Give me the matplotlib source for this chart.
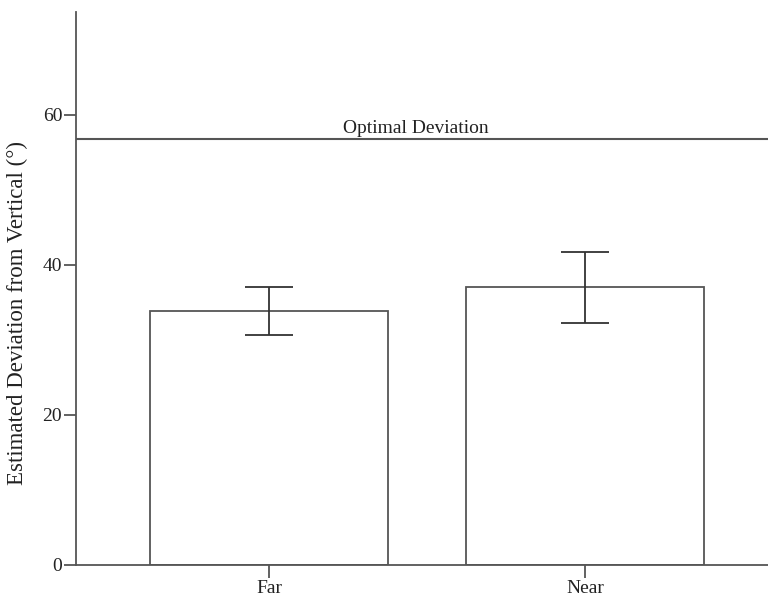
import numpy as np
import matplotlib
matplotlib.use("Agg")
import matplotlib.pyplot as plt

plt.rcParams['font.family'] = ['Liberation Serif', 'DejaVu Serif']

# values
conditions = ['Far', 'Near']
means = [33.8, 37.0]
err_low = [30.6, 32.2]
err_high = [37.0, 41.7]
optimal = 56.8
yticks = [0, 20, 40, 60]

fig = plt.figure(figsize=(7.68, 5.98), dpi=100)
ax = fig.add_axes([0.099, 0.0552, 0.901, 0.9248])

x = np.arange(len(conditions))
lower = np.array(means) - np.array(err_low)
upper = np.array(err_high) - np.array(means)
ax.bar(x, means, width=0.753, color='white', edgecolor='#555555', linewidth=1.3, zorder=2)
ax.errorbar(x, means, yerr=[lower, upper], fmt='none', ecolor='#333333',
            elinewidth=1.3, capsize=17, capthick=1.3, zorder=3)

ax.axhline(optimal, color='#555555', linewidth=1.5, zorder=1)
ax.text(0.464, optimal + 0.3, 'Optimal Deviation', ha='center', va='bottom',
        fontsize=14, color='#222222')

ax.set_xlim(-0.611, 1.578)
ax.set_ylim(0, 73.7)
ax.set_xticks(x)
ax.set_xticklabels(conditions, fontsize=14, color='#222222')
ax.set_yticks(yticks)
ax.set_yticklabels([str(t) for t in yticks], fontsize=14, color='#222222')
ax.tick_params(axis='y', length=9, width=1.3, color='#555555', pad=1)
ax.tick_params(axis='x', length=9, width=1.3, color='#555555', pad=2)
ax.set_ylabel('Estimated Deviation from Vertical (°)', fontsize=16.5, color='#222222')
ax.yaxis.set_label_coords(-0.07, 0.455)

for s in ['top', 'right']:
    ax.spines[s].set_visible(False)
for s in ['left', 'bottom']:
    ax.spines[s].set_color('#555555')
    ax.spines[s].set_linewidth(1.3)

fig.savefig('out.png', dpi=100)
